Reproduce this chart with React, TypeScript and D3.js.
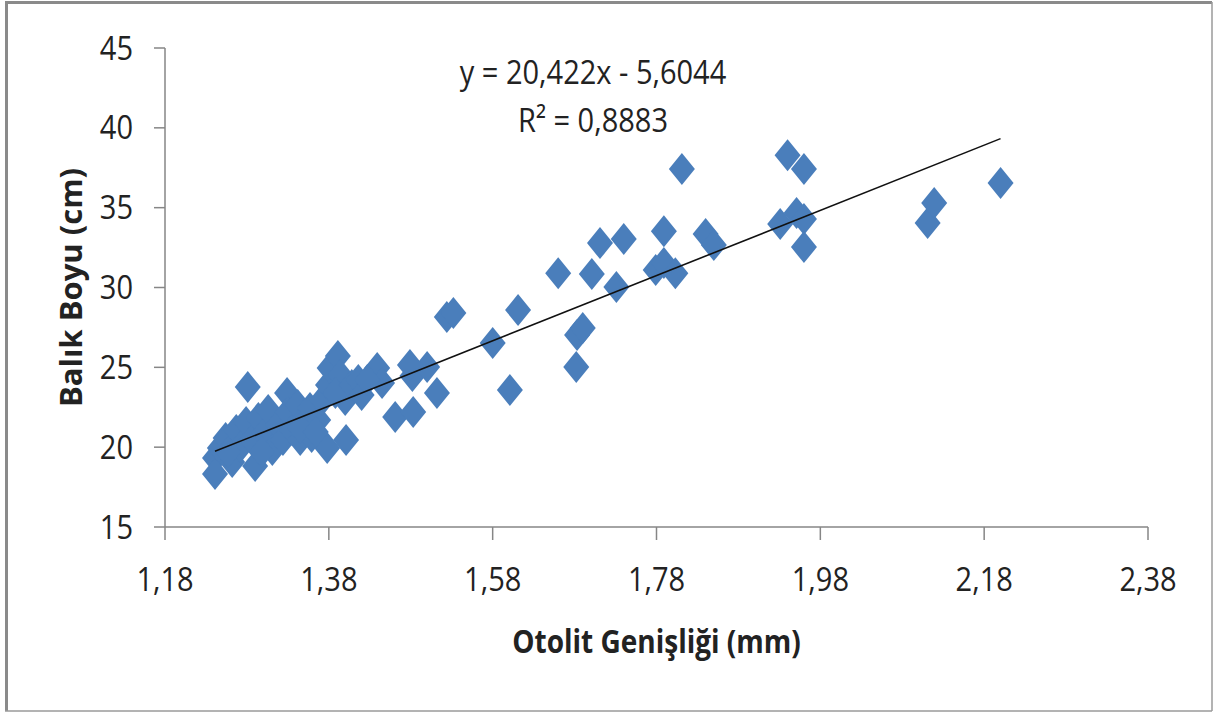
import React from "react";
import * as d3 from "d3";

const WIDTH = 1214;
const HEIGHT = 713;
const MARGIN = { top: 48, right: 66, bottom: 186, left: 165 };
const FONT = "'Open Sans', 'Liberation Sans', sans-serif";
const AXIS_COLOR = "#868686";
const POINT_COLOR = "#4A7EBB";
const DIAMOND_W = 13;
const DIAMOND_H = 16;
const STRETCH = 1.13; // the source picture is stretched vertically

// otolit width (mm)
const otolitWidth = [
	1.241, 1.241, 1.247, 1.254, 1.262, 1.267, 1.272, 1.279, 1.281, 1.286,
	1.290, 1.294, 1.301, 1.306, 1.311, 1.318, 1.324, 1.329, 1.330, 1.335,
	1.342, 1.345, 1.351, 1.357, 1.359, 1.367, 1.372, 1.378, 1.379, 1.381,
	1.391, 1.394, 1.400, 1.401, 1.388, 1.408, 1.416, 1.420, 1.439, 1.445,
	1.461, 1.482, 1.483, 1.500, 1.512, 1.524, 1.532, 1.580, 1.601, 1.611,
	1.660, 1.682, 1.683, 1.690, 1.701, 1.711, 1.731, 1.740, 1.779, 1.789,
	1.789, 1.803, 1.811, 1.840, 1.850, 1.931, 1.940, 1.951, 1.960, 1.960,
	1.960, 2.111, 2.119, 2.200, 1.479, 1.427, 1.257, 1.298, 1.345, 1.364,
];

// fish length (cm)
const fishLength = [
	19.32, 18.32, 19.95, 20.57, 19.07, 21.07, 20.01, 21.57, 23.77, 20.45,
	18.82, 21.83, 20.89, 22.33, 19.82, 21.39, 20.45, 23.39, 22.20, 21.07,
	22.64, 20.45, 21.83, 22.45, 20.64, 21.70, 22.95, 19.95, 23.89, 24.96,
	25.71, 24.52, 22.95, 20.45, 23.40, 23.89, 24.20, 23.27, 24.96, 24.02,
	21.89, 24.46, 22.20, 25.02, 23.39, 28.15, 28.40, 26.52, 23.58, 28.59,
	30.90, 25.02, 27.02, 27.46, 30.84, 32.78, 30.03, 33.03, 31.09, 31.53,
	33.53, 30.90, 37.42, 33.35, 32.66, 33.97, 38.29, 34.66, 37.42, 34.29,
	32.53, 34.04, 35.29, 36.54, 25.15, 24.20, 19.70, 19.70, 21.20, 20.95,
];

const xTicks = [1.18, 1.38, 1.58, 1.78, 1.98, 2.18, 2.38];
const yTicks = [15, 20, 25, 30, 35, 40, 45];

const SLOPE = 20.422;
const INTERCEPT = -5.6044;
const equationLabel = "y = 20,422x - 5,6044";
const r2Label = "R² = 0,8883";
const xTitle = "Otolit Genişliği (mm)";
const yTitle = "Balık Boyu (cm)";

const fmt = (v: number) => d3.format(".2f")(v).replace(".", ",");

type LabelProps = {
	x: number;
	y: number;
	anchor?: "start" | "middle" | "end";
	size: number;
	weight?: string;
	rotate?: number;
	children: React.ReactNode;
};

// text drawn at (x, y) baseline, stretched vertically like the source
const Label = ({ x, y, anchor = "middle", size, weight = "normal", rotate = 0, children }: LabelProps) => (
	<g transform={`translate(${x},${y}) rotate(${rotate}) scale(1,${STRETCH})`}>
		<text textAnchor={anchor} fontSize={size} fontWeight={weight} fill="#222">
			{children}
		</text>
	</g>
);

export default function App() {
	const x = d3
		.scaleLinear()
		.domain([1.18, 2.38])
		.range([MARGIN.left, WIDTH - MARGIN.right]);
	const y = d3
		.scaleLinear()
		.domain([15, 45])
		.range([HEIGHT - MARGIN.bottom, MARGIN.top]);

	const points = otolitWidth.map((w, i) => ({ w, l: fishLength[i] }));

	const diamond = (cx: number, cy: number) => {
		const p = d3.path();
		p.moveTo(cx, cy - DIAMOND_H);
		p.lineTo(cx + DIAMOND_W, cy);
		p.lineTo(cx, cy + DIAMOND_H);
		p.lineTo(cx - DIAMOND_W, cy);
		p.closePath();
		return p.toString();
	};

	const xMin = d3.min(otolitWidth) as number;
	const xMax = d3.max(otolitWidth) as number;
	const trend = d3
		.line<number>()
		.x((d) => x(d))
		.y((d) => y(SLOPE * d + INTERCEPT))([xMin, xMax]);

	const y0 = y(15);
	const x0 = x(1.18);
	const plotMidX = (x(1.18) + x(2.38)) / 2;
	const plotMidY = (y(15) + y(45)) / 2;

	return (
		<svg
			width={WIDTH}
			height={HEIGHT}
			style={{ position: "absolute", left: 0, top: 0, background: "#fff" }}
			fontFamily={FONT}
		>
			{/* outer frame */}
			<line x1={6.5} y1={2} x2={6.5} y2={711} stroke="#8a8a8a" strokeWidth={3} />
			<line x1={5} y1={2.5} x2={1212} y2={2.5} stroke="#8a8a8a" strokeWidth={3} />
			<line x1={1212} y1={2} x2={1212} y2={711} stroke="#9a9a9a" strokeWidth={1.5} />
			<line x1={5} y1={711} x2={1212} y2={711} stroke="#9a9a9a" strokeWidth={1.5} />

			{/* y axis */}
			<line x1={x0} x2={x0} y1={y(45)} y2={y0} stroke={AXIS_COLOR} strokeWidth={1.5} />
			{yTicks.map((t) => (
				<g key={t}>
					<line x1={x0 - 11} x2={x0} y1={y(t)} y2={y(t)} stroke={AXIS_COLOR} strokeWidth={1.5} />
					<Label x={133} y={y(t) + 11.5} anchor="end" size={29}>
						{t}
					</Label>
				</g>
			))}

			{/* x axis */}
			<line x1={x0} x2={x(2.38)} y1={y0} y2={y0} stroke={AXIS_COLOR} strokeWidth={1.5} />
			{xTicks.map((t) => (
				<g key={t}>
					<line x1={x(t)} x2={x(t)} y1={y0} y2={y0 + 13} stroke={AXIS_COLOR} strokeWidth={1.5} />
					<Label x={x(t)} y={591} size={29}>
						{fmt(t)}
					</Label>
				</g>
			))}

			{/* points */}
			{points.map((d, i) => (
				<path key={i} d={diamond(x(d.w), y(d.l))} fill={POINT_COLOR} />
			))}

			{/* trendline */}
			<path d={trend ?? ""} fill="none" stroke="#111" strokeWidth={1.6} />

			{/* equation */}
			<Label x={593} y={84} size={29}>
				{equationLabel}
			</Label>
			<Label x={593} y={132} size={29}>
				{r2Label}
			</Label>

			{/* axis titles */}
			<Label x={plotMidX} y={653} size={28} weight="bold">
				{xTitle}
			</Label>
			<g transform={`translate(82,${plotMidY}) rotate(-90)`}>
				<text textAnchor="middle" fontSize={31} fontWeight="bold" fill="#222">
					{yTitle}
				</text>
			</g>
		</svg>
	);
}
